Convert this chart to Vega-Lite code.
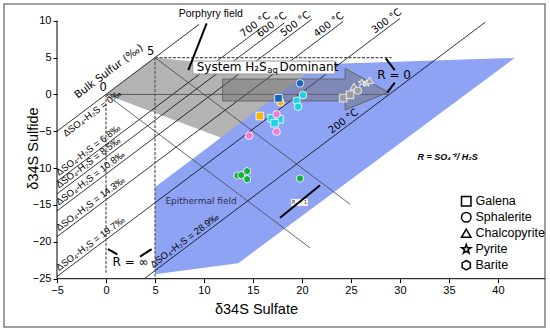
{
"$schema": "https://vega.github.io/schema/vega-lite/v6.json",
"width": 541, "height": 323,
"autosize": {"type": "none"},
"padding": {"left": 4, "top": 4, "right": 5, "bottom": 5},
"background": "white",
"config": {"view": {"stroke": "#808080", "strokeWidth": 1.5}, "font": "DejaVu Sans"},
"datasets": {
 "porphyry": [{"x":0,"y":0,"o":0},{"x":5,"y":5,"o":1},{"x":21.5,"y":2.64,"o":2},{"x":12.5,"y":-6.25,"o":3}],
 "epithermal": [{"x":5,"y":-24.4,"o":0},{"x":5,"y":-12.6,"o":1},{"x":21.7,"y":4.1,"o":2},{"x":41.7,"y":4.95,"o":3},{"x":13.5,"y":-22.9,"o":4}],
 "arrow": [{"x":11.9,"y":2.09,"o":0},{"x":24.4,"y":2.09,"o":1},{"x":24.4,"y":3.54,"o":2},{"x":28.8,"y":0.3,"o":3},{"x":24.4,"y":-2.12,"o":4},{"x":24.4,"y":-0.89,"o":5},{"x":11.9,"y":-0.89,"o":6}],
 "lines": [
  {"id":"d0","kind":"iso","x":-5,"y":-5,"o":0},{"id":"d0","kind":"iso","x":9.5,"y":9.5,"o":1},
  {"id":"d68","kind":"iso","x":-5,"y":-11.8,"o":0},{"id":"d68","kind":"iso","x":15.9,"y":9.1,"o":1},
  {"id":"d85","kind":"iso","x":-5,"y":-13.5,"o":0},{"id":"d85","kind":"iso","x":18.2,"y":9.7,"o":1},
  {"id":"d108","kind":"iso","x":-5,"y":-15.8,"o":0},{"id":"d108","kind":"iso","x":21,"y":10.2,"o":1},
  {"id":"d143","kind":"iso","x":-5,"y":-19.3,"o":0},{"id":"d143","kind":"iso","x":24.2,"y":9.9,"o":1},
  {"id":"d197","kind":"iso","x":-5,"y":-24.7,"o":0},{"id":"d197","kind":"iso","x":30,"y":10.3,"o":1},
  {"id":"d289","kind":"iso","x":3.9,"y":-25,"o":0},{"id":"d289","kind":"iso","x":38.7,"y":9.8,"o":1},
  {"id":"r0","kind":"r","x":0,"y":0,"o":0},{"id":"r0","kind":"r","x":20.8,"y":-20.8,"o":1},
  {"id":"r5","kind":"r","x":5,"y":5,"o":0},{"id":"r5","kind":"r","x":24.9,"y":-14.9,"o":1},
  {"id":"h0","kind":"r","x":0,"y":0,"o":0},{"id":"h0","kind":"r","x":28.8,"y":0,"o":1},
  {"id":"h5","kind":"dash","x":5,"y":5,"o":0},{"id":"h5","kind":"dash","x":29.15,"y":5,"o":1},
  {"id":"v0","kind":"dash","x":0,"y":0,"o":0},{"id":"v0","kind":"dash","x":0,"y":-24.2,"o":1},
  {"id":"v5","kind":"dash","x":5,"y":5,"o":0},{"id":"v5","kind":"dash","x":5,"y":-25,"o":1},
  {"id":"c1","kind":"thick","x":10.27,"y":9.65,"o":0},{"id":"c1","kind":"thick","x":8.4,"y":3.3,"o":1},
  {"id":"b1","kind":"thick","x":28.55,"y":4.9,"o":0},{"id":"b1","kind":"thick","x":29.46,"y":3.3,"o":1},
  {"id":"b2","kind":"thick","x":29.46,"y":1.6,"o":0},{"id":"b2","kind":"thick","x":28.7,"y":0.25,"o":1},
  {"id":"b3","kind":"thick","x":0.2,"y":-21,"o":0},{"id":"b3","kind":"thick","x":1.16,"y":-21.7,"o":1},
  {"id":"b4","kind":"thick","x":3.47,"y":-22.0,"o":0},{"id":"b4","kind":"thick","x":4.66,"y":-21.0,"o":1},
  {"id":"b5","kind":"thick","x":17.76,"y":-16.73,"o":0},{"id":"b5","kind":"thick","x":21.84,"y":-12.33,"o":1}
 ],
 "axisline": [{"id":"xa","x":-5,"y":-25,"o":0},{"id":"xa","x":44.796,"y":-25,"o":1},{"id":"ya","x":-5,"y":-25,"o":0},{"id":"ya","x":-5,"y":10,"o":1}],
 "boxes": [{"kind":"sys","x":8.85,"x2":23.37,"y":4.53,"y2":2.77},{"kind":"r1","x":18.88,"x2":20.61,"y":-14.19,"y2":-15.14}],
 "points": [
  {"x":19.8,"y":1.5,"mineral":"Sphalerite","site":"B"},
  {"x":20.1,"y":-0.08,"mineral":"Sphalerite","site":"C"},
  {"x":19.45,"y":-0.85,"mineral":"Sphalerite","site":"C"},
  {"x":19.6,"y":-1.67,"mineral":"Sphalerite","site":"C"},
  {"x":17.8,"y":-1.07,"mineral":"Sphalerite","site":"Y"},
  {"x":17.6,"y":-0.53,"mineral":"Galena","site":"B"},
  {"x":15.7,"y":-2.93,"mineral":"Galena","site":"Y"},
  {"x":16.9,"y":-3.24,"mineral":"Galena","site":"C"},
  {"x":17.7,"y":-3.38,"mineral":"Galena","site":"C"},
  {"x":17.2,"y":-3.9,"mineral":"Galena","site":"C"},
  {"x":17.4,"y":-2.7,"mineral":"Sphalerite","site":"P"},
  {"x":17.4,"y":-5.06,"mineral":"Sphalerite","site":"P"},
  {"x":14.6,"y":-5.6,"mineral":"Sphalerite","site":"P"},
  {"x":13.4,"y":-11.0,"mineral":"Barite","site":"G"},
  {"x":13.8,"y":-10.95,"mineral":"Barite","site":"G"},
  {"x":14.4,"y":-10.4,"mineral":"Barite","site":"G"},
  {"x":14.4,"y":-11.5,"mineral":"Barite","site":"G"},
  {"x":19.8,"y":-11.4,"mineral":"Barite","site":"G"},
  {"x":24.2,"y":-0.5,"mineral":"Galena","site":"N"},
  {"x":24.9,"y":-0.05,"mineral":"Galena","site":"N"},
  {"x":25.3,"y":1.1,"mineral":"Chalcopyrite","site":"N"},
  {"x":25.7,"y":0.5,"mineral":"Sphalerite","site":"N"},
  {"x":26.1,"y":1.6,"mineral":"Pyrite","site":"N"},
  {"x":26.6,"y":1.5,"mineral":"Pyrite","site":"N"},
  {"x":26.9,"y":1.9,"mineral":"Chalcopyrite","site":"N"}
 ],
 "labels": [
  {"kind":"dabove","x":-4.6,"y":-11.4,"text":"ΔSO₄-H₂S = 6.8‰"},
  {"kind":"dabove","x":-4.6,"y":-13.1,"text":"ΔSO₄-H₂S = 8.5‰"},
  {"kind":"dabove","x":-4.6,"y":-15.4,"text":"ΔSO₄-H₂S = 10.8‰"},
  {"kind":"dabove","x":-4.6,"y":-18.9,"text":"ΔSO₄-H₂S = 14.3‰"},
  {"kind":"dabove","x":-4.6,"y":-24.3,"text":"ΔSO₄-H₂S = 19.7‰"},
  {"kind":"dabove","x":5.0,"y":-23.9,"text":"ΔSO₄-H₂S = 28.9‰"},
  {"kind":"dbelow","x":-4.7,"y":-4.7,"text":"ΔSO₄-H₂S = 0‰"},
  {"kind":"temp","x":14.2,"y":7.4,"text":"700 °C"},
  {"kind":"temp","x":15.9,"y":7.4,"text":"600 °C"},
  {"kind":"temp","x":18.3,"y":7.5,"text":"500 °C"},
  {"kind":"temp","x":21.7,"y":7.4,"text":"400 °C"},
  {"kind":"temp","x":27.6,"y":7.9,"text":"300 °C"},
  {"kind":"temp","x":23.2,"y":-5.7,"text":"200 °C"},
  {"kind":"bulk","x":0.3,"y":3.1,"text":"Bulk Sulfur (‰)"},
  {"kind":"num","x":-0.28,"y":0.83,"text":"0"},
  {"kind":"num","x":4.56,"y":5.8,"text":"5"},
  {"kind":"R","x":29.4,"y":2.6,"text":"R = 0"},
  {"kind":"R","x":2.5,"y":-22.7,"text":"R = ∞"},
  {"kind":"porph","x":10.7,"y":10.9,"text":"Porphyry field"},
  {"kind":"epi","x":9.7,"y":-14.5,"text":"Epithermal field"},
  {"kind":"ratio","x":34.85,"y":-8.5,"text":"R = SO₄⁻²/ H₂S"},
  {"kind":"r1","x":19.75,"y":-14.66,"text":"R = 1"},
  {"kind":"sysL","x":16.4,"y":3.7,"text":"System H₂S"},
  {"kind":"sysS","x":16.45,"y":3.25,"text":"aq"},
  {"kind":"sysR","x":17.7,"y":3.7,"text":"Dominant"}
 ]
},
"encoding": {
 "x": {"field": "x", "type": "quantitative",
  "scale": {"domain": [-10.408, 44.796], "nice": false, "zero": false},
  "axis": {"values": [-5,0,5,10,15,20,25,30,35,40], "offset": -48.3, "domain": false, "grid": false,
   "tickSize": 4, "tickColor": "black", "labelFont": "Liberation Sans", "labelFontSize": 11, "labelColor": "black",
   "labelPadding": 2, "labelFlush": false, "labelOverlap": false,
   "title": "δ34S Sulfate", "titleFont": "Liberation Sans", "titleFontSize": 14.5, "titleFontWeight": "normal", "titleColor": "black",
   "titleX": 252, "titleY": 31, "titleBaseline": "middle", "titleAlign": "center"}},
 "y": {"field": "y", "type": "quantitative",
  "scale": {"domain": [-31.553, 12.266], "nice": false, "zero": false},
  "axis": {"values": [-25,-20,-15,-10,-5,0,5,10], "offset": -53, "domain": false, "grid": false,
   "tickSize": 4, "tickColor": "black", "labelFont": "Liberation Sans", "labelFontSize": 11, "labelColor": "black",
   "labelPadding": 2, "labelFlush": false, "labelOverlap": false,
   "title": "δ34S Sulfide", "titleFont": "Liberation Sans", "titleFontSize": 14.5, "titleFontWeight": "normal", "titleColor": "black",
   "titleX": -24, "titleY": 144, "titleBaseline": "middle", "titleAlign": "center", "titleAngle": -90}}
},
"layer": [
 {"data": {"name": "porphyry"}, "mark": {"type": "line", "interpolate": "linear-closed", "fill": "#b3b3b3", "strokeWidth": 0}, "encoding": {"order": {"field": "o"}}},
 {"data": {"name": "epithermal"}, "mark": {"type": "line", "interpolate": "linear-closed", "fill": "#8fa3f5", "strokeWidth": 0}, "encoding": {"order": {"field": "o"}}},
 {"data": {"name": "lines"}, "transform": [{"filter": "datum.kind == 'iso'"}], "mark": {"type": "line", "color": "black", "strokeWidth": 0.8}, "encoding": {"detail": {"field": "id"}, "order": {"field": "o"}}},
 {"data": {"name": "lines"}, "transform": [{"filter": "datum.kind == 'r'"}], "mark": {"type": "line", "color": "#444444", "strokeWidth": 0.8}, "encoding": {"detail": {"field": "id"}, "order": {"field": "o"}}},
 {"data": {"name": "lines"}, "transform": [{"filter": "datum.kind == 'dash'"}], "mark": {"type": "line", "color": "#555555", "strokeWidth": 1.2, "strokeDash": [3, 1.5]}, "encoding": {"detail": {"field": "id"}, "order": {"field": "o"}}},
 {"data": {"name": "arrow"}, "mark": {"type": "line", "interpolate": "linear-closed", "fill": "#6a6a6a", "fillOpacity": 0.45, "stroke": "#666666", "strokeWidth": 1}, "encoding": {"order": {"field": "o"}}},
 {"data": {"name": "boxes"}, "transform": [{"filter": "datum.kind == 'sys'"}], "mark": {"type": "rect", "fill": "white", "stroke": "#999999", "strokeWidth": 1}, "encoding": {"x2": {"field": "x2"}, "y2": {"field": "y2"}}},
 {"data": {"name": "boxes"}, "transform": [{"filter": "datum.kind == 'r1'"}], "mark": {"type": "rect", "fill": "white", "stroke": "#bbbbbb", "strokeWidth": 0.5}, "encoding": {"x2": {"field": "x2"}, "y2": {"field": "y2"}}},
 {"data": {"name": "lines"}, "transform": [{"filter": "datum.kind == 'thick'"}], "mark": {"type": "line", "color": "black", "strokeWidth": 2}, "encoding": {"detail": {"field": "id"}, "order": {"field": "o"}}},
 {"data": {"name": "points"}, "mark": {"type": "point", "filled": true, "size": 58, "stroke": "white", "strokeWidth": 0.8, "opacity": 1},
  "encoding": {
   "fill": {"field": "site", "type": "nominal", "scale": {"domain": ["Y","B","C","P","G","N"], "range": ["#f6b400","#1565c0","#1ed2e6","#f07ed6","#12b03c","#9e9e9e"]}, "legend": null},
   "shape": {"field": "mineral", "type": "nominal",
    "scale": {"domain": ["Galena","Sphalerite","Chalcopyrite","Pyrite","Barite"],
     "range": ["square","circle","triangle-up","M0,-1L0.2245,-0.309L0.951,-0.309L0.363,0.118L0.588,0.809L0,0.382L-0.588,0.809L-0.363,0.118L-0.951,-0.309L-0.2245,-0.309Z","M0,-1L0.866,-0.5L0.866,0.5L0,1L-0.866,0.5L-0.866,-0.5Z"]},
    "legend": {"orient": "none", "legendX": 456, "legendY": 191, "title": null, "symbolFillColor": "white", "symbolStrokeColor": "black", "symbolStrokeWidth": 1.5, "symbolSize": 90, "labelFont": "Liberation Sans", "labelFontSize": 12.5, "labelColor": "black", "rowPadding": 0, "gridAlign": "all", "labelOffset": 3, "padding": 0}}}},
 {"data": {"name": "labels"}, "transform": [{"filter": "datum.kind == 'dabove'"}], "mark": {"type": "text", "angle": 323, "align": "left", "baseline": "bottom", "dy": -1, "font": "Liberation Sans", "fontSize": 9.5, "color": "black"}, "encoding": {"text": {"field": "text"}}},
 {"data": {"name": "labels"}, "transform": [{"filter": "datum.kind == 'dbelow'"}], "mark": {"type": "text", "angle": 323, "align": "left", "baseline": "top", "dy": 2, "font": "Liberation Sans", "fontSize": 9.5, "color": "black"}, "encoding": {"text": {"field": "text"}}},
 {"data": {"name": "labels"}, "transform": [{"filter": "datum.kind == 'temp'"}], "mark": {"type": "text", "angle": 323, "align": "left", "baseline": "bottom", "dy": -1, "font": "DejaVu Sans", "fontSize": 10, "color": "black"}, "encoding": {"text": {"field": "text"}}},
 {"data": {"name": "labels"}, "transform": [{"filter": "datum.kind == 'bulk'"}], "mark": {"type": "text", "angle": 323, "align": "center", "baseline": "middle", "font": "DejaVu Sans", "fontSize": 10.5, "color": "black"}, "encoding": {"text": {"field": "text"}}},
 {"data": {"name": "labels"}, "transform": [{"filter": "datum.kind == 'num'"}], "mark": {"type": "text", "align": "center", "baseline": "middle", "font": "DejaVu Sans", "fontSize": 11.5, "color": "black"}, "encoding": {"text": {"field": "text"}}},
 {"data": {"name": "labels"}, "transform": [{"filter": "datum.kind == 'R'"}], "mark": {"type": "text", "align": "center", "baseline": "middle", "font": "DejaVu Sans", "fontSize": 12, "color": "black"}, "encoding": {"text": {"field": "text"}}},
 {"data": {"name": "labels"}, "transform": [{"filter": "datum.kind == 'porph'"}], "mark": {"type": "text", "align": "center", "baseline": "middle", "font": "Liberation Sans", "fontSize": 10.5, "color": "black"}, "encoding": {"text": {"field": "text"}}},
 {"data": {"name": "labels"}, "transform": [{"filter": "datum.kind == 'epi'"}], "mark": {"type": "text", "align": "center", "baseline": "middle", "font": "DejaVu Sans", "fontSize": 9, "color": "#2c2c50"}, "encoding": {"text": {"field": "text"}}},
 {"data": {"name": "labels"}, "transform": [{"filter": "datum.kind == 'ratio'"}], "mark": {"type": "text", "align": "center", "baseline": "middle", "font": "Liberation Sans", "fontSize": 9, "fontWeight": "bold", "fontStyle": "italic", "color": "black"}, "encoding": {"text": {"field": "text"}}},
 {"data": {"name": "labels"}, "transform": [{"filter": "datum.kind == 'r1'"}], "mark": {"type": "text", "align": "center", "baseline": "middle", "font": "DejaVu Sans", "fontSize": 5.5, "color": "#333333"}, "encoding": {"text": {"field": "text"}}},
 {"data": {"name": "labels"}, "transform": [{"filter": "datum.kind == 'sysL'"}], "mark": {"type": "text", "align": "right", "baseline": "middle", "font": "DejaVu Sans", "fontSize": 12, "color": "black"}, "encoding": {"text": {"field": "text"}}},
 {"data": {"name": "labels"}, "transform": [{"filter": "datum.kind == 'sysS'"}], "mark": {"type": "text", "align": "left", "baseline": "middle", "font": "DejaVu Sans", "fontSize": 8.5, "color": "black"}, "encoding": {"text": {"field": "text"}}},
 {"data": {"name": "labels"}, "transform": [{"filter": "datum.kind == 'sysR'"}], "mark": {"type": "text", "align": "left", "baseline": "middle", "font": "DejaVu Sans", "fontSize": 12, "color": "black"}, "encoding": {"text": {"field": "text"}}},
 {"data": {"name": "axisline"}, "mark": {"type": "line", "color": "black", "strokeWidth": 1}, "encoding": {"detail": {"field": "id"}, "order": {"field": "o"}}}
]
}
